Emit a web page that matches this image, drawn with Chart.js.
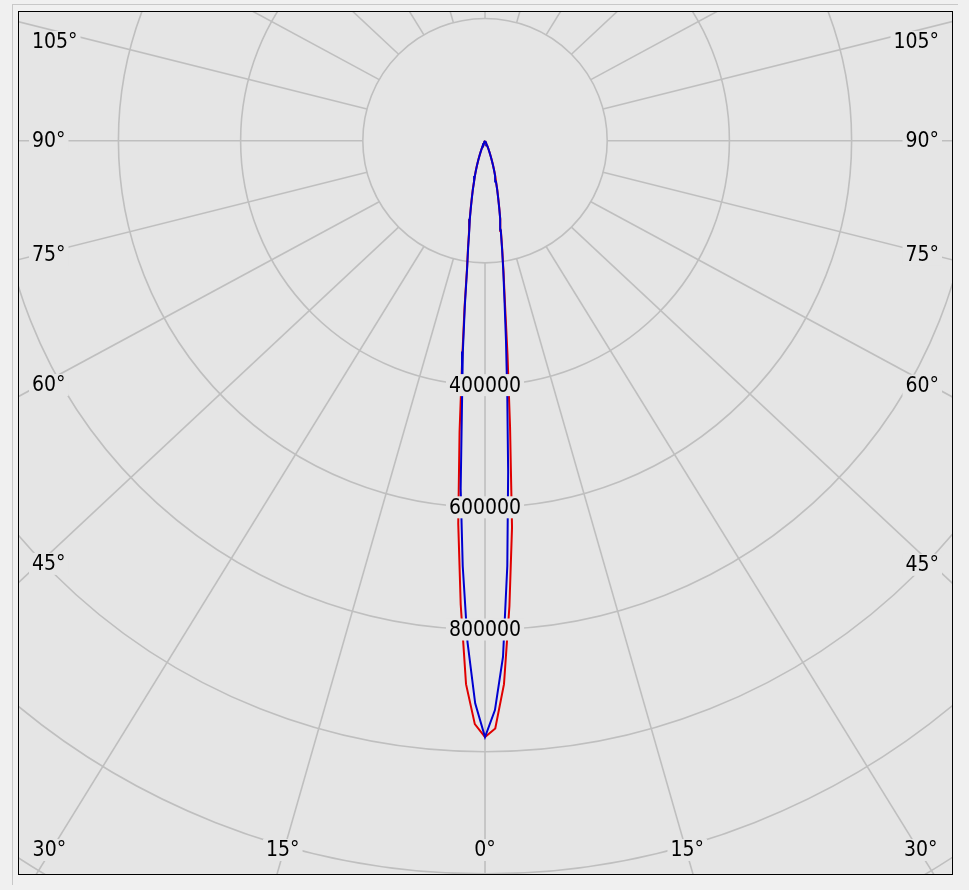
<!DOCTYPE html>
<html>
<head>
<meta charset="utf-8">
<script src="https://cdn.jsdelivr.net/npm/chart.js@4.4.1/dist/chart.umd.min.js"></script>
<style>
    html, body { margin: 0; padding: 0; background: #f0f0f0; }
    #wrap { position: relative; width: 969px; height: 890px; }
    #edge { position: absolute; left: 12px; top: 4px; width: 945px; height: 880px;
            border-top: 1px solid #c8c8c8; border-left: 1px solid #c8c8c8; }
    #polar { position: absolute; left: 0; top: 0; }
</style>
</head>
<body>
<div id="wrap">
    <div id="edge"></div>
    <canvas id="polar" width="969" height="890"></canvas>
</div>
<script>
// gamma angles (deg, 0 = straight down) and intensities per half plane
const gamma = [0, 1, 2, 3, 4, 5, 6, 7, 8, 9, 10, 11, 12, 13, 14, 15, 16, 17, 18, 19, 20,
    21, 22, 23, 24, 25, 26, 27, 28, 29, 30];
const redLeft = [976000, 955000, 890000, 760000, 628000, 478000, 356000, 275000, 212000, 178000, 150000,
    131000, 112000, 96000, 83000, 70000, 61000, 52000, 43000, 35000, 28000,
    22000, 16500, 12000, 8000, 5000, 3000, 1500, 500, 0, 0];
const redRight = [976000, 962000, 890000, 763000, 634000, 470000, 352000, 268000, 218000, 180000, 150000,
    131000, 112000, 96000, 83000, 70000, 61000, 52000, 43000, 35000, 28000,
    22000, 16500, 12000, 8000, 5000, 3000, 1500, 500, 0, 0];
const blueLeft = [976000, 921000, 821000, 697000, 571000, 432000, 347000, 270000, 210000, 176000, 148000,
    130000, 111000, 95000, 82000, 69000, 60000, 51000, 42000, 34000, 27000,
    21000, 16000, 12000, 8000, 5000, 3000, 1500, 500, 0, 0];
const blueRight = [976000, 932000, 845000, 697000, 543000, 418000, 328000, 261000, 215000, 178000, 148000,
    130000, 111000, 95000, 82000, 69000, 60000, 51000, 42000, 34000, 27000,
    21000, 16000, 12000, 8000, 5000, 3000, 1500, 500, 0, 0];

const rings = [200000, 400000, 600000, 800000, 1000000, 1200000, 1400000];
const ringLabels = [400000, 600000, 800000];
const spokeAngles = [0, 15, 30, 45, 60, 75, 90, 105, 120, 135, 150, 165, 180,
    195, 210, 225, 240, 255, 270, 285, 300, 315, 330, 345];
const angleLabels = [0, 15, 30, 45, 60, 75, 90, 105];

const FONT = '21px "DejaVu Sans Condensed", "DejaVu Sans", sans-serif';
const GRID = '#bfbfbf';
const BG = '#e5e5e5';

function toXY(left, right) {
    let pts = [];
    for (let i = gamma.length - 1; i >= 0; i--) {
        let a = gamma[i] * Math.PI / 180;
        pts.push({x: -left[i] * Math.sin(a), y: -left[i] * Math.cos(a)});
    }
    for (let i = 1; i < gamma.length; i++) {
        let a = gamma[i] * Math.PI / 180;
        pts.push({x: right[i] * Math.sin(a), y: -right[i] * Math.cos(a)});
    }
    return pts;
}

function boxText(ctx, text, x, y, align) {
    ctx.font = FONT;
    let w = ctx.measureText(text).width;
    let x0 = align === 'left' ? x : (align === 'right' ? x - w : x - w / 2);
    ctx.fillStyle = BG;
    ctx.fillRect(x0 - 3, y - 11, w + 6, 22);
    ctx.fillStyle = '#000';
    ctx.textAlign = align;
    ctx.textBaseline = 'middle';
    ctx.fillText(text, x, y + 1);
}

const polarGrid = {
    id: 'polarGrid',
    beforeDatasetsDraw(chart) {
        const ctx = chart.ctx, a = chart.chartArea;
        const sx = chart.scales.x, sy = chart.scales.y;
        const cx = sx.getPixelForValue(0), cy = sy.getPixelForValue(0);
        const px = v => sx.getPixelForValue(v) - cx;
        ctx.save();
        ctx.fillStyle = BG;
        ctx.fillRect(a.left, a.top, a.right - a.left, a.bottom - a.top);
        ctx.beginPath();
        ctx.rect(a.left, a.top, a.right - a.left, a.bottom - a.top);
        ctx.clip();
        ctx.strokeStyle = GRID;
        ctx.lineWidth = 1.6;
        rings.forEach(function (r) {
            ctx.beginPath();
            ctx.arc(cx, cy, px(r), 0, Math.PI * 2);
            ctx.stroke();
        });
        const r1 = px(rings[0]), far = 1600;
        spokeAngles.forEach(function (d) {
            let t = d * Math.PI / 180;
            ctx.beginPath();
            ctx.moveTo(cx + r1 * Math.sin(t), cy + r1 * Math.cos(t));
            ctx.lineTo(cx + far * Math.sin(t), cy + far * 0.94 * Math.cos(t));
            ctx.stroke();
        });
        ctx.restore();
    },
    afterDatasetsDraw(chart) {
        const ctx = chart.ctx, a = chart.chartArea;
        const sx = chart.scales.x, sy = chart.scales.y;
        const cx = sx.getPixelForValue(0), cy = sy.getPixelForValue(0);
        ctx.save();
        ringLabels.forEach(function (r) {
            boxText(ctx, String(r), cx, sy.getPixelForValue(-r), 'center');
        });
        ctx.font = FONT;
        angleLabels.forEach(function (d) {
            [-1, 1].forEach(function (side) {
                if (d === 0 && side === 1) return;
                let t = d * Math.PI / 180;
                let ux = Math.sin(t), uy = 0.94 * Math.cos(t);
                let text = d + '°';
                let w = ctx.measureText(text).width;
                let tb = uy > 0 ? (a.bottom - cy) / uy : Infinity;
                let ts = ux > 0 ? (cx - a.left) / ux : Infinity;
                if (tb < ts) {
                    let y = a.bottom - 24;
                    boxText(ctx, text, cx + side * ux * (y - cy) / uy, y, 'center');
                } else {
                    let xc = side < 0 ? a.left + 13 + w / 2 : a.right - 13 - w / 2;
                    let y = cy + 0.97 * Math.cos(t) * Math.abs(xc - cx) / ux;
                    y = Math.max(y, a.top + 30);
                    boxText(ctx, text, side < 0 ? a.left + 13 : a.right - 13, y, side < 0 ? 'left' : 'right');
                }
            });
        });
        ctx.strokeStyle = '#000';
        ctx.lineWidth = 1;
        ctx.strokeRect(a.left - 0.5, a.top - 0.5, a.right - a.left + 1, a.bottom - a.top + 1);
        ctx.restore();
    }
};

new Chart(document.getElementById('polar'), {
    type: 'scatter',
    data: {
        datasets: [
            {
                label: 'C90-C270',
                data: toXY(blueLeft, blueRight),
                showLine: true,
                borderColor: '#0000d0',
                borderWidth: 2,
                pointRadius: 0,
                tension: 0
            },
            {
                label: 'C0-C180',
                data: toXY(redLeft, redRight),
                showLine: true,
                borderColor: '#e00000',
                borderWidth: 2,
                pointRadius: 0,
                tension: 0
            }
        ]
    },
    options: {
        responsive: false,
        animation: false,
        layout: {
            padding: {left: 19, top: 12, right: 17, bottom: 16}
        },
        plugins: {
            legend: {display: false},
            tooltip: {enabled: false}
        },
        scales: {
            x: {display: false, min: -762700, max: 764300},
            y: {display: false, min: -1200100, max: 210600}
        }
    },
    plugins: [polarGrid]
});
</script>
</body>
</html>
